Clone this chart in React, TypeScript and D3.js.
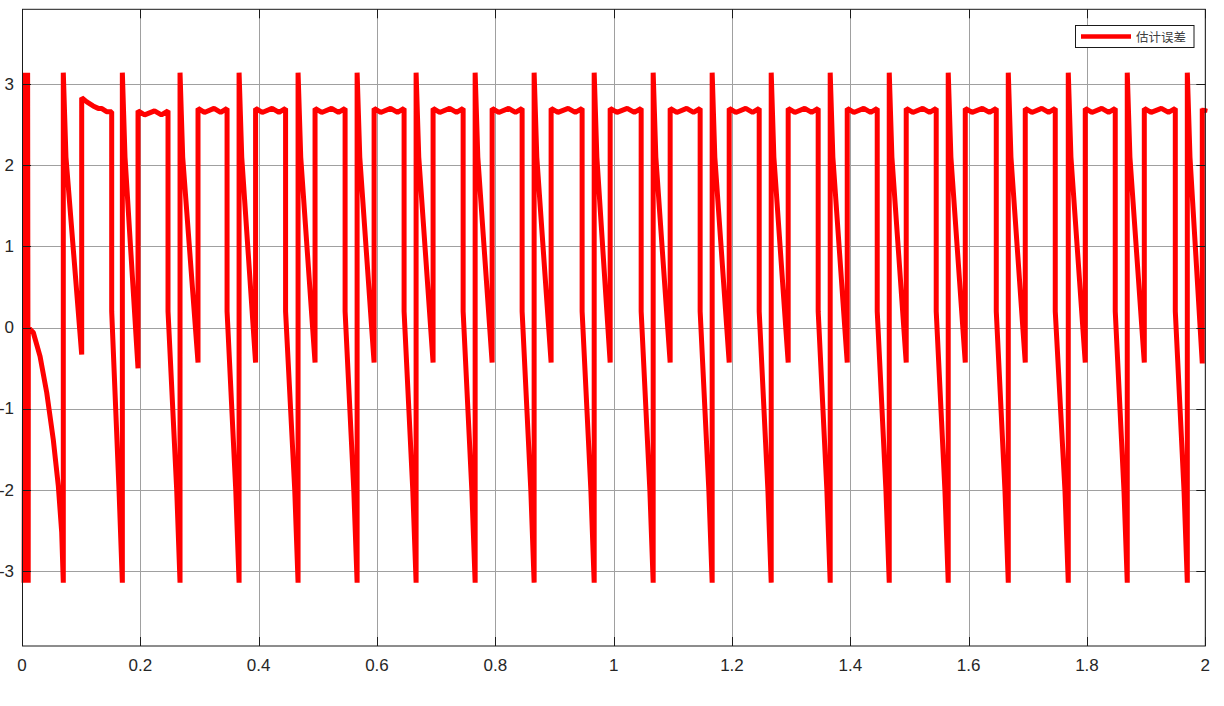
import React, { useEffect, useRef } from 'react';
import * as d3 from 'd3';

const W = 1224;
const H = 706;

const xTicks = [0, 0.2, 0.4, 0.6, 0.8, 1, 1.2, 1.4, 1.6, 1.8, 2];
const yTicks = [-3, -2, -1, 0, 1, 2, 3];
const legendLabel = '估计误差';

// start-up: fast wrap chatter, then the first slow drift down
const chatterT = [0.0035, 0.0055, 0.0075, 0.0095, 0.0105];
const chatterV = [-3.14, 3.14, -3.14, 3.14, -3.14];
const driftT = [0.0107, 0.0191, 0.0304, 0.0418, 0.0529, 0.0614, 0.0671];
const driftV = [0, -0.06, -0.35, -0.8, -1.38, -1.95, -2.52];

// instants where the error wraps from -pi to +pi
const wrapT = [0.0698, 0.1696, 0.2671, 0.3669, 0.4666, 0.5664, 0.6661, 0.7659, 0.8656, 0.9671,
  1.0668, 1.1665, 1.2663, 1.366, 1.4658, 1.5655, 1.667, 1.7684, 1.8681, 1.9696];
// end of the fall after each wrap, where it jumps up to the plateau
const riseT = [0.1009, 0.1961, 0.2975, 0.3948, 0.4953, 0.5951, 0.6948, 0.7946, 0.8943, 0.9941,
  1.0955, 1.1953, 1.295, 1.3948, 1.4945, 1.5943, 1.6957, 1.7971, 1.8969, 1.9949];
const fallLow = [-0.33, -0.5, -0.43, -0.43, -0.43, -0.43, -0.43, -0.43, -0.43, -0.43,
  -0.43, -0.43, -0.43, -0.43, -0.43, -0.43, -0.43, -0.43, -0.43, -0.44];
// end of each plateau
const dropT = [0.1516, 0.2468, 0.3466, 0.4455, 0.5461, 0.6458, 0.7456, 0.8453, 0.9467, 1.0465,
  1.1462, 1.246, 1.3457, 1.4455, 1.5452, 1.6467, 1.7464, 1.8478, 1.9493];
const plateauHi = [2.83, 2.67, 2.7, 2.7, 2.7, 2.7, 2.7, 2.7, 2.7, 2.7,
  2.7, 2.7, 2.7, 2.7, 2.7, 2.7, 2.7, 2.7, 2.7, 2.7];
const plateauLo = [2.66, 2.62, 2.65, 2.65, 2.65, 2.65, 2.65, 2.65, 2.65, 2.65,
  2.65, 2.65, 2.65, 2.65, 2.65, 2.65, 2.65, 2.65, 2.65, 2.65];
const rippleFrac = [0, 0.22, 0.55, 0.78, 1];
// the first plateau sags instead of rippling
const firstPlateauFrac = [0, 0.17, 0.38, 0.55, 0.66, 0.83, 1];
const firstPlateauV = [2.83, 2.78, 2.73, 2.7, 2.7, 2.66, 2.66];

const App: React.FC = () => {
  const svgRef = useRef<SVGSVGElement>(null);

  useEffect(() => {
    if (!svgRef.current) return;
    const svg = d3.select(svgRef.current);
    svg.selectAll('*').remove();

    const left = 22, right = 1205.3, top = 9.3, bottom = 646;
    const x = d3.scaleLinear().domain([0, 2]).range([left, right]);
    const y = d3.scaleLinear().domain([-3.92, 3.92]).range([bottom, top]);

    // build the trace
    const pts: [number, number][] = [];
    chatterT.forEach((t, i) => pts.push([t, chatterV[i]]));
    driftT.forEach((t, i) => pts.push([t, driftV[i]]));
    wrapT.forEach((t0, i) => {
      pts.push([t0, -3.14]);
      pts.push([t0, 3.14]);
      pts.push([t0 + 0.0045, 2.1]);
      pts.push([riseT[i], fallLow[i]]);
      const tEnd = i < dropT.length ? dropT[i] : 2;
      if (i === 0) {
        firstPlateauFrac.forEach((f, k) => pts.push([riseT[i] + f * (tEnd - riseT[i]), firstPlateauV[k]]));
      } else {
        rippleFrac.forEach((f, k) =>
          pts.push([riseT[i] + f * (tEnd - riseT[i]), k % 2 ? plateauLo[i] : plateauHi[i]]));
      }
      if (i < dropT.length) {
        pts.push([dropT[i], 0.2]);
        pts.push([wrapT[i + 1] - 0.0056, -2.0]);
      }
    });

    svg.append('rect').attr('width', W).attr('height', H).attr('fill', '#fff');

    // grid
    const grid = svg.append('g').attr('stroke', '#a0a0a0').attr('stroke-width', 1);
    xTicks.forEach(t => {
      grid.append('line').attr('x1', Math.round(x(t)) + 0.5).attr('x2', Math.round(x(t)) + 0.5)
        .attr('y1', top).attr('y2', bottom);
    });
    yTicks.forEach(t => {
      grid.append('line').attr('y1', Math.round(y(t)) + 0.5).attr('y2', Math.round(y(t)) + 0.5)
        .attr('x1', left).attr('x2', right);
    });

    // trace
    const line = d3.line<[number, number]>().x(d => x(d[0])).y(d => y(d[1]));
    svg.append('path')
      .datum(pts)
      .attr('fill', 'none')
      .attr('stroke', '#ff0000')
      .attr('stroke-width', 5)
      .attr('stroke-linejoin', 'bevel')
      .attr('d', line);

    // box and inward ticks
    const axis = svg.append('g').attr('stroke', '#1a1a1a').attr('stroke-width', 1).attr('fill', 'none');
    axis.append('rect').attr('x', left + 0.5).attr('y', top).attr('width', right - left - 0.5).attr('height', bottom - top);
    const tl = 9;
    xTicks.forEach(t => {
      const px = Math.round(x(t)) + 0.5;
      axis.append('line').attr('x1', px).attr('x2', px).attr('y1', bottom).attr('y2', bottom - tl);
      axis.append('line').attr('x1', px).attr('x2', px).attr('y1', top).attr('y2', top + tl);
    });
    yTicks.forEach(t => {
      const py = Math.round(y(t)) + 0.5;
      axis.append('line').attr('y1', py).attr('y2', py).attr('x1', left).attr('x2', left + tl);
      axis.append('line').attr('y1', py).attr('y2', py).attr('x1', right).attr('x2', right - tl);
    });

    // tick labels
    const labels = svg.append('g')
      .attr('font-family', 'Arial, "Liberation Sans", sans-serif')
      .attr('font-size', 17)
      .attr('fill', '#262626');
    xTicks.forEach(t => {
      labels.append('text').attr('x', x(t)).attr('y', 671).attr('text-anchor', 'middle').text(String(t));
    });
    yTicks.forEach(t => {
      labels.append('text').attr('x', 14).attr('y', y(t)).attr('text-anchor', 'end')
        .attr('dominant-baseline', 'central').text(String(t));
    });

    // legend
    const lg = svg.append('g');
    lg.append('rect').attr('x', 1075.5).attr('y', 25.5).attr('width', 118.5).attr('height', 22)
      .attr('fill', '#fff').attr('stroke', '#1a1a1a').attr('stroke-width', 1);
    lg.append('line').attr('x1', 1081).attr('x2', 1131).attr('y1', 36.5).attr('y2', 36.5)
      .attr('stroke', '#ff0000').attr('stroke-width', 4.5);
    lg.append('text').attr('x', 1136).attr('y', 36.5).attr('dominant-baseline', 'central')
      .attr('font-family', '"Noto Sans CJK SC", sans-serif').attr('font-size', 12.5)
      .attr('fill', '#404040').text(legendLabel);
  }, []);

  return (
    <div style={{ position: 'fixed', left: 0, top: 0, width: W, height: H, background: '#fff' }}>
      <svg ref={svgRef} width={W} height={H} style={{ display: 'block' }} />
    </div>
  );
};

export default App;
